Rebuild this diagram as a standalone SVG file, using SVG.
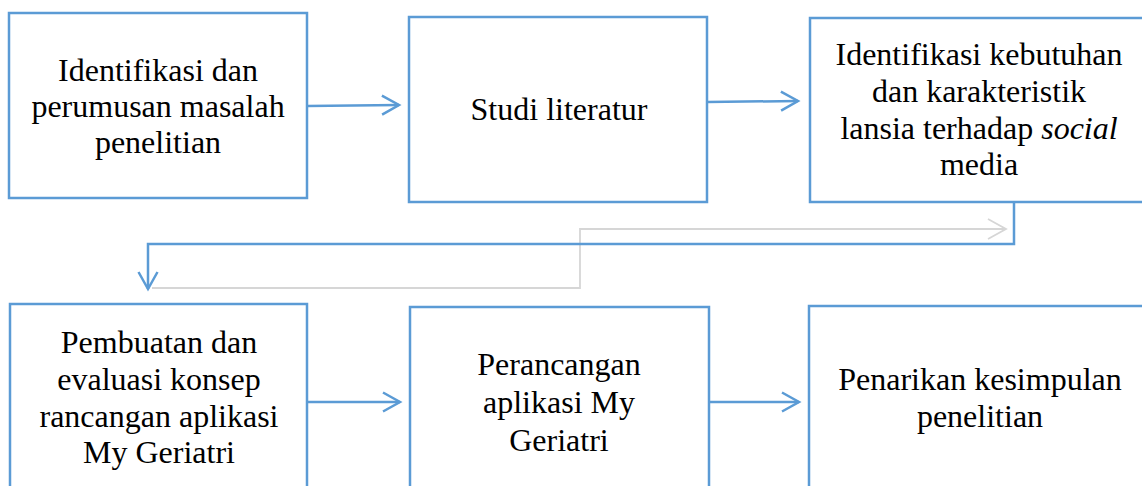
<svg xmlns="http://www.w3.org/2000/svg" width="1142" height="486" viewBox="0 0 1142 486">
<style>
.box{fill:#fff;stroke:#5b9bd5;stroke-width:2.5}
.t{font-family:"Liberation Serif","Times New Roman",serif;font-size:32px;fill:#000;text-anchor:middle}
.c{fill:none;stroke:#5b9bd5;stroke-width:2.5}
.g{fill:none;stroke:#d6d6d6;stroke-width:1.8}
</style>
<defs>
<marker id="ah" markerUnits="userSpaceOnUse" markerWidth="30" markerHeight="30" viewBox="-20 -15 30 30" refX="0" refY="0" orient="auto">
<path d="M-17,-9.5 L0,0 L-17,9.5" fill="none" stroke="#5b9bd5" stroke-width="2.5"/>
</marker>
<marker id="ahg" markerUnits="userSpaceOnUse" markerWidth="30" markerHeight="30" viewBox="-20 -15 30 30" refX="0" refY="0" orient="auto">
<path d="M-18,-10 L0,0 L-18,10" fill="none" stroke="#d6d6d6" stroke-width="1.8"/>
</marker>
</defs>
<g id="connectors">
<polyline class="g" points="152,288 580,288 580,229 1006,229" marker-end="url(#ahg)"/>
<line class="c" x1="307" y1="106" x2="399" y2="105" marker-end="url(#ah)"/>
<line class="c" x1="707" y1="102" x2="798" y2="101" marker-end="url(#ah)"/>
<polyline class="c" points="1014,202 1014,244 148,244 148,289" marker-end="url(#ah)"/>
<line class="c" x1="307" y1="402" x2="400" y2="402" marker-end="url(#ah)"/>
<line class="c" x1="709" y1="402" x2="799" y2="402" marker-end="url(#ah)"/>
</g>
<g id="n1">
<rect class="box" x="9" y="13" width="298" height="185"/>
<text class="t" x="158" y="81">Identifikasi dan</text>
<text class="t" x="158" y="117">perumusan masalah</text>
<text class="t" x="158" y="153">penelitian</text>
</g>
<g id="n2">
<rect class="box" x="409" y="17" width="298" height="185"/>
<text class="t" x="559" y="120">Studi literatur</text>
</g>
<g id="n3">
<rect class="box" x="810" y="18" width="340" height="184"/>
<text class="t" x="979" y="65">Identifikasi kebutuhan</text>
<text class="t" x="979" y="102">dan karakteristik</text>
<text class="t" x="979" y="139">lansia terhadap <tspan font-style="italic">social</tspan></text>
<text class="t" x="979" y="175">media</text>
</g>
<g id="n4">
<rect class="box" x="10" y="304" width="297" height="200"/>
<text class="t" x="159" y="353">Pembuatan dan</text>
<text class="t" x="159" y="390">evaluasi konsep</text>
<text class="t" x="159" y="427">rancangan aplikasi</text>
<text class="t" x="159" y="463">My Geriatri</text>
</g>
<g id="n5">
<rect class="box" x="410" y="307" width="299" height="200"/>
<text class="t" x="559" y="375">Perancangan</text>
<text class="t" x="559" y="413">aplikasi My</text>
<text class="t" x="559" y="451">Geriatri</text>
</g>
<g id="n6">
<rect class="box" x="809" y="306" width="350" height="200"/>
<text class="t" x="980" y="390">Penarikan kesimpulan</text>
<text class="t" x="980" y="427">penelitian</text>
</g>
</svg>
